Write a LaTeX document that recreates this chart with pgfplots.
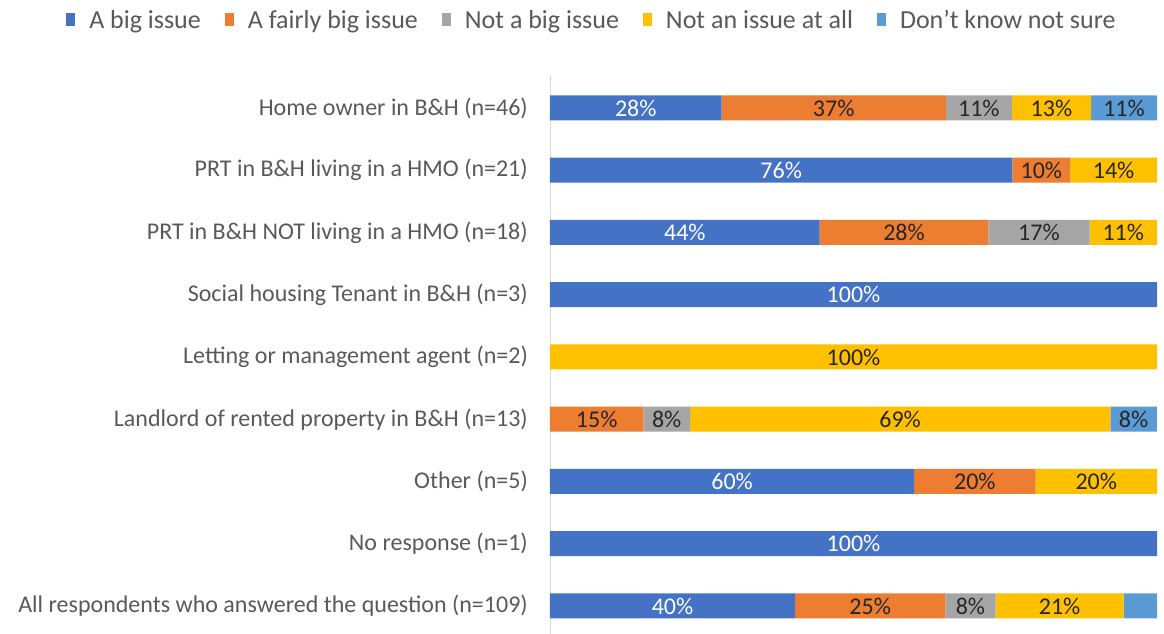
\documentclass[border=0pt]{standalone}
\usepackage{pgfplots}
\pgfplotsset{compat=1.18}
\usepackage{pgfplotstable}
\usepackage{fontspec}
\setmainfont{Carlito}
\definecolor{cA}{HTML}{4472C4}
\definecolor{cB}{HTML}{ED7D31}
\definecolor{cC}{HTML}{A5A5A5}
\definecolor{cD}{HTML}{FFC000}
\definecolor{cE}{HTML}{5B9BD5}
\definecolor{txt}{HTML}{595959}
\pgfplotstableread{
y a b c d e la lb lc ld le
0 28.26 36.96 10.87 13.04 10.87 28\% 37\% 11\% 13\% 11\%
1 76.19 9.52 0 14.29 0 76\% 10\% {} 14\% {}
2 44.44 27.78 16.67 11.11 0 44\% 28\% 17\% 11\% {}
3 100 0 0 0 0 100\% {} {} {} {}
4 0 0 0 100 0 {} {} {} 100\% {}
5 0 15.38 7.69 69.23 7.69 {} 15\% 8\% 69\% 8\%
6 60 20 0 20 0 60\% 20\% {} 20\% {}
7 100 0 0 0 0 100\% {} {} {} {}
8 40.37 24.77 8.26 21.10 5.50 40\% 25\% 8\% 21\% {}
}\data
\begin{document}
\begin{tikzpicture}
\useasboundingbox (-550pt,0pt) rectangle (614pt,634pt);
\begin{axis}[
  at={(0pt,0pt)}, anchor=south west,
  scale only axis, width=607pt, height=559pt,
  xbar stacked, bar width=25pt,
  xmin=0, xmax=100,
  ymin=-0.53, ymax=8.45, y dir=reverse,
  ytick={0,...,8},
  yticklabels={Home owner in B\&H (n=46),PRT in B\&H living in a HMO (n=21),PRT in B\&H NOT living in a HMO (n=18),Social housing Tenant in B\&H (n=3),Letting or management agent (n=2),Landlord of rented property in B\&H (n=13),Other (n=5),No response (n=1),All respondents who answered the question (n=109)},
  axis x line=none,
  axis y line*=left,
  y axis line style={draw=black!15,-},
  major tick length=0pt,
  yticklabel style={font=\fontsize{24}{28}\selectfont, text=txt, inner sep=0pt, xshift=-22pt},
  legend image code/.code={\fill[#1,draw=none] (0pt,-6pt) rectangle (9pt,7pt);},
  legend columns=5,
  legend style={draw=none, at={(0.069,1.098)}, anchor=center, font=\fontsize{26}{30}\selectfont, text=txt,
    /tikz/every odd column/.append style={column sep=12pt},
    /tikz/every even column/.append style={column sep=22pt}},
  point meta=explicit symbolic,
  nodes near coords={\pgfplotspointmeta},
  every node near coord/.append style={anchor=center, font=\fontsize{24}{28}\selectfont, text=black!85},
]
\addplot[fill=cA, draw=none, every node near coord/.append style={text=white}] table[x=a, y=y, meta=la]{\data};
\addplot[fill=cB, draw=none] table[x=b, y=y, meta=lb]{\data};
\addplot[fill=cC, draw=none] table[x=c, y=y, meta=lc]{\data};
\addplot[fill=cD, draw=none] table[x=d, y=y, meta=ld]{\data};
\addplot[fill=cE, draw=none] table[x=e, y=y, meta=le]{\data};
\legend{A big issue, A fairly big issue, Not a big issue, Not an issue at all, Don't know not sure}
\end{axis}
\end{tikzpicture}
\end{document}
